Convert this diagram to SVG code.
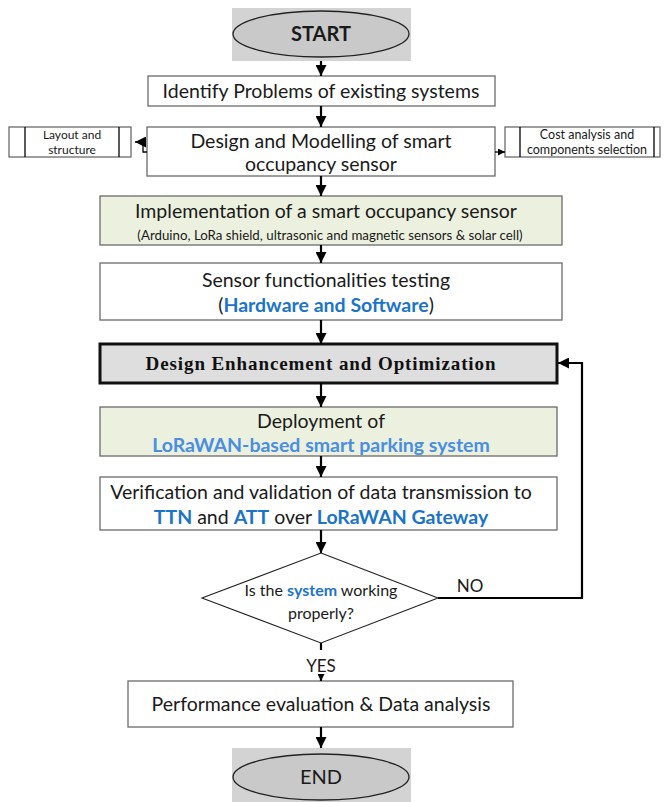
<svg xmlns="http://www.w3.org/2000/svg" width="666" height="802" viewBox="0 0 666 802">
<style>
.box{fill:#ffffff;stroke:#6b6b6b;stroke-width:1.3}
.green{fill:#ebf1de;stroke:#6b6b6b;stroke-width:1.3}
.t{font-family:Lato,"Open Sans","Liberation Sans",sans-serif;fill:#1a1a1a;text-anchor:middle}
.blue{fill:#1b74c8;font-weight:bold}
.lblue{fill:#4a8ee0;font-weight:bold}
.con{fill:none;stroke:#000;stroke-width:2.2}
.thin{fill:none;stroke:#000;stroke-width:1.3}
</style>
<defs>
<marker id="ah" markerUnits="userSpaceOnUse" viewBox="0 0 10 10" refX="10" refY="5" markerWidth="11" markerHeight="11" orient="auto"><path d="M0,0 L10,5 L0,10 z" fill="#000"/></marker>
<marker id="ahs" markerUnits="userSpaceOnUse" viewBox="0 0 10 10" refX="10" refY="5" markerWidth="7" markerHeight="7" orient="auto"><path d="M0,0 L10,5 L0,10 z" fill="#000"/></marker>
</defs>

<g id="start">
<rect x="232" y="8" width="179" height="53" fill="#d3d3d3"/>
<ellipse cx="321" cy="34" rx="88" ry="23" fill="#c9c9c9" stroke="#222" stroke-width="1.3"/>
<text class="t" x="321" y="41" font-size="20" font-weight="bold">START</text>
</g>

<g id="identify">
<rect class="box" x="148" y="76" width="347" height="30"/>
<text class="t" x="321" y="98" font-size="19.5">Identify Problems of existing systems</text>
</g>

<g id="design">
<rect class="box" x="147" y="127" width="348" height="49"/>
<text class="t" x="321" y="148" font-size="19.5">Design and Modelling of smart</text>
<text class="t" x="321" y="171" font-size="19.5">occupancy sensor</text>
</g>

<g id="layout">
<rect class="box" x="9" y="127" width="122" height="30"/>
<line class="thin" x1="25" y1="127" x2="25" y2="157" stroke="#6b6b6b"/>
<line class="thin" x1="119" y1="127" x2="119" y2="157" stroke="#6b6b6b"/>
<text class="t" x="72" y="139" font-size="12">Layout and</text>
<text class="t" x="72" y="154" font-size="12">structure</text>
</g>

<g id="cost">
<rect class="box" x="505" y="127" width="155" height="30"/>
<line class="thin" x1="520" y1="127" x2="520" y2="157" stroke="#6b6b6b"/>
<line class="thin" x1="654" y1="127" x2="654" y2="157" stroke="#6b6b6b"/>
<text class="t" x="587" y="139" font-size="12.5">Cost analysis and</text>
<text class="t" x="587" y="154" font-size="12.5">components selection</text>
</g>

<g id="implementation">
<rect class="green" x="100" y="196" width="462" height="49"/>
<text class="t" x="326" y="218" font-size="19.5">Implementation of a smart occupancy sensor</text>
<text class="t" x="330" y="240" font-size="13.3">(Arduino, LoRa shield, ultrasonic and magnetic sensors &amp; solar cell)</text>
</g>

<g id="testing">
<rect class="box" x="100" y="263" width="462" height="57"/>
<text class="t" x="326" y="287" font-size="19.5">Sensor functionalities testing</text>
<text class="t" x="326" y="312" font-size="19.5">(<tspan class="blue">Hardware and Software</tspan>)</text>
</g>

<g id="enhancement">
<rect x="100" y="344" width="457" height="39" fill="#dedede" stroke="#111" stroke-width="3"/>
<text x="321" y="370" font-size="19" font-weight="bold" font-family="'Liberation Serif',serif" text-anchor="middle" fill="#111" letter-spacing="0.9">Design Enhancement and Optimization</text>
</g>

<g id="deployment">
<rect class="green" x="100" y="407" width="457" height="49"/>
<text class="t" x="321" y="428" font-size="19.5">Deployment of</text>
<text class="t lblue" x="321" y="452" font-size="19.5">LoRaWAN-based smart parking system</text>
</g>

<g id="verification">
<rect class="box" x="100" y="477" width="457" height="53"/>
<text class="t" x="321" y="499" font-size="19.5">Verification and validation of data transmission to</text>
<text class="t" x="321" y="524" font-size="19.5"><tspan class="blue">TTN</tspan> and <tspan class="blue">ATT</tspan>  over <tspan class="blue">LoRaWAN Gateway</tspan></text>
</g>

<g id="decision">
<polygon points="321,553 438,598 321,643 202,598" fill="#fff" stroke="#222" stroke-width="1.1"/>
<text class="t" x="321" y="596" font-size="16">Is the <tspan class="blue" font-weight="normal">system</tspan> working</text>
<text class="t" x="321" y="619" font-size="16">properly?</text>
</g>

<g id="performance">
<rect class="box" x="128" y="681" width="385" height="46"/>
<text class="t" x="321" y="711" font-size="19.5">Performance evaluation &amp; Data analysis</text>
</g>

<g id="end">
<rect x="232" y="748" width="179" height="54" fill="#d3d3d3"/>
<ellipse cx="321" cy="777" rx="88" ry="23" fill="#c9c9c9" stroke="#222" stroke-width="1.3"/>
<text class="t" x="321" y="784" font-size="20">END</text>
</g>

<g id="labels">
<text class="t" x="470" y="592" font-size="17">NO</text>
<text class="t" x="321" y="672" font-size="17">YES</text>
</g>

<g id="connectors">
<line class="con" x1="321" y1="61" x2="321" y2="76" marker-end="url(#ah)"/>
<line class="con" x1="321" y1="106" x2="321" y2="127" marker-end="url(#ah)"/>
<path class="thin" d="M147,152 H143 V142 H135" marker-end="url(#ah)"/>
<path class="thin" d="M495,152 H505" marker-end="url(#ahs)"/>
<line class="con" x1="321" y1="176" x2="321" y2="196" marker-end="url(#ah)"/>
<line class="con" x1="321" y1="245" x2="321" y2="263" marker-end="url(#ah)"/>
<line class="con" x1="321" y1="320" x2="321" y2="344" marker-end="url(#ah)"/>
<line class="con" x1="321" y1="383" x2="321" y2="407" marker-end="url(#ah)"/>
<line class="con" x1="321" y1="456" x2="321" y2="477" marker-end="url(#ah)"/>
<line class="con" x1="321" y1="530" x2="321" y2="553" marker-end="url(#ah)"/>
<path class="con" d="M438,598 H582 V363 H558" marker-end="url(#ah)"/>
<line class="con" x1="321" y1="643" x2="321" y2="650"/>
<line class="con" x1="321" y1="676" x2="321" y2="681" marker-end="url(#ahs)"/>
<line class="con" x1="321" y1="727" x2="321" y2="748" marker-end="url(#ah)"/>
</g>
</svg>
